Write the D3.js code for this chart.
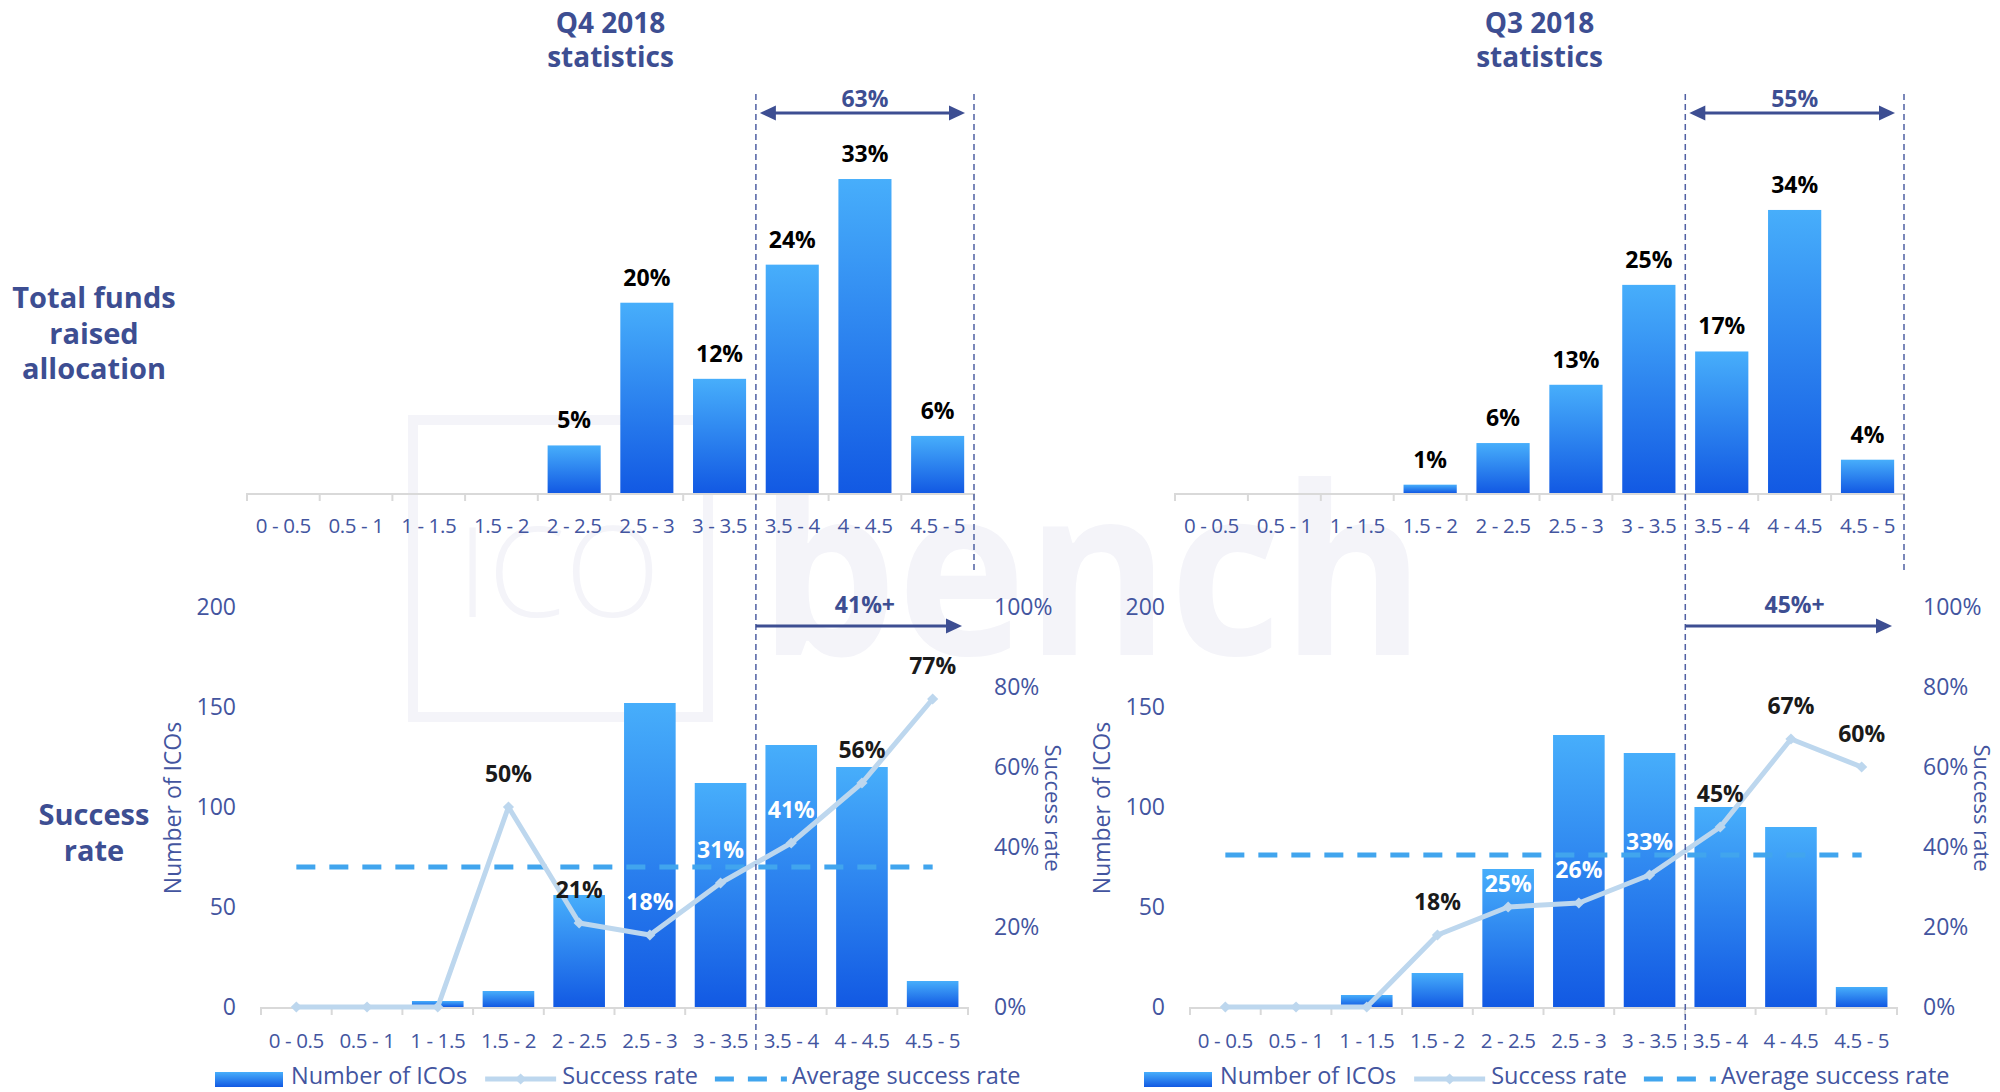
<!DOCTYPE html>
<html>
<head>
<meta charset="utf-8">
<script src="https://cdn.jsdelivr.net/npm/d3@7/dist/d3.min.js"></script>
<style>
  body { margin: 0; background: #fff; }
  svg { display: block; }
  text { font-family: "Open Sans", "Noto Sans", sans-serif; }
</style>
</head>
<body>
<svg id="chart" width="2000" height="1092"></svg>
<script>
// ICO rating buckets
const categories = ["0 - 0.5", "0.5 - 1", "1 - 1.5", "1.5 - 2", "2 - 2.5",
                    "2.5 - 3", "3 - 3.5", "3.5 - 4", "4 - 4.5", "4.5 - 5"];

// Share of total funds raised per rating bucket (%)
const q4FundsShare = [0, 0, 0, 0, 5, 20, 12, 24, 33, 6];
const q3FundsShare = [0, 0, 0, 1, 6, 13, 25, 17, 34, 4];

// Number of ICOs per rating bucket
const q4IcoCount = [0, 0, 3, 8, 56, 152, 112, 131, 120, 13];
const q3IcoCount = [0, 0, 6, 17, 69, 136, 127, 100, 90, 10];

// Success rate per rating bucket (%)
const q4SuccessRate = [0, 0, 0, 50, 21, 18, 31, 41, 56, 77];
const q3SuccessRate = [0, 0, 0, 18, 25, 26, 33, 45, 67, 60];

// Average success rate (%)
const q4AvgRate = 35;
const q3AvgRate = 38;

// Axis ticks
const countTicks = [0, 50, 100, 150, 200];
const rateTicks = [0, 0.2, 0.4, 0.6, 0.8, 1];

const titles = [["Q4 2018", "statistics"], ["Q3 2018", "statistics"]];
const rowLabels = [["Total funds", "raised", "allocation"], ["Success", "rate"]];
const legendLabels = ["Number of ICOs", "Success rate", "Average success rate"];

// ---------------------------------------------------------------
const NAVY = "#3D4E92";
const TICK = "#43559F";
const LINE = "#BDD7EE";
const AVG = "#41A5EE";
const WM = "#F4F4F9";
const highlightFrom = 7; // "3.5 - 4" and above

const svg = d3.select("#chart");

const defs = svg.append("defs");
const grad = defs.append("linearGradient").attr("id", "barGrad")
  .attr("x1", 0).attr("y1", 0).attr("x2", 0).attr("y2", 1);
grad.append("stop").attr("offset", "0%").attr("stop-color", "#47AEFB");
grad.append("stop").attr("offset", "100%").attr("stop-color", "#1259E3");

// Background logo mark
const wm = svg.append("g");
wm.append("rect").attr("x", 413).attr("y", 420).attr("width", 295).attr("height", 297)
  .attr("fill", "none").attr("stroke", WM).attr("stroke-width", 10);
wm.append("text").attr("x", 457).attr("y", 617).text("ICO")
  .attr("font-size", 125).attr("font-weight", 300).attr("fill", WM)
  .attr("textLength", 203).attr("lengthAdjust", "spacingAndGlyphs");
wm.append("text").attr("x", 759).attr("y", 655).text("bench")
  .attr("font-size", 235).attr("font-weight", 700).attr("fill", WM)
  .attr("textLength", 666).attr("lengthAdjust", "spacingAndGlyphs");

// Row labels on the left
function rowLabel(lines, y0) {
  const t = svg.append("text").attr("text-anchor", "middle")
    .attr("font-size", 29).attr("font-weight", 700).attr("fill", NAVY);
  lines.forEach((s, i) => t.append("tspan").attr("x", 94).attr("y", y0 + i * 35.5).text(s));
}
rowLabel(rowLabels[0], 308);
rowLabel(rowLabels[1], 825);

function arrowHead(g, x, y, dir) {
  // dir = 1 pointing right, -1 pointing left
  g.append("path")
    .attr("d", `M${x},${y} L${x - dir * 16},${y - 7.5} L${x - dir * 16},${y + 7.5} Z`)
    .attr("fill", NAVY);
}

function xAxis(g, x, y, n, pad) {
  const ax = g.append("g").attr("transform", `translate(0,${y})`)
    .call(d3.axisBottom(x).tickSize(0).tickPadding(pad));
  ax.select(".domain").remove();
  ax.selectAll("text").attr("font-size", 20.5).attr("fill", TICK)
    .attr("letter-spacing", -0.4)
    .attr("font-family", "\"Open Sans\", sans-serif");
  const [r0, r1] = x.range();
  g.append("line").attr("x1", r0).attr("x2", r1).attr("y1", y + 1).attr("y2", y + 1)
    .attr("stroke", "#D9D9D9").attr("stroke-width", 2);
  d3.range(n + 1).forEach(i => {
    const xx = r0 + i * x.step();
    g.append("line").attr("x1", xx).attr("x2", xx).attr("y1", y).attr("y2", y + 8)
      .attr("stroke", "#D9D9D9").attr("stroke-width", 2);
  });
}

function panel(opt) {
  const g = svg.append("g");

  // ---------- Top: funds raised allocation ----------
  const xt = d3.scaleBand().domain(categories).range([opt.tx0, opt.tx1])
    .paddingInner(0.27).paddingOuter(0.135);
  const yt = d3.scaleLinear().domain([0, opt.fundsMax]).range([493, 160]);

  g.append("g").selectAll("rect").data(opt.funds).join("rect")
    .attr("x", (d, i) => xt(categories[i]))
    .attr("width", xt.bandwidth())
    .attr("y", d => yt(d))
    .attr("height", d => yt(0) - yt(d))
    .attr("fill", "url(#barGrad)");

  xAxis(g, xt, 493, categories.length, 25);

  g.append("g").selectAll("text")
    .data(opt.funds.map((v, i) => ({ v, c: categories[i] })).filter(d => d.v > 0))
    .join("text")
    .attr("x", d => xt(d.c) + xt.bandwidth() / 2)
    .attr("y", d => yt(d.v) - 17)
    .attr("text-anchor", "middle").attr("font-size", 23).attr("font-weight", 700)
    .attr("fill", "#000").text(d => d.v + "%");

  // title
  const tc = (opt.tx0 + opt.tx1) / 2;
  const tt = g.append("text").attr("text-anchor", "middle").attr("font-size", 28)
    .attr("font-weight", 700).attr("fill", NAVY);
  opt.title.forEach((s, i) => tt.append("tspan").attr("x", tc).attr("y", 33 + i * 34).text(s));

  // ---------- Bottom: number of ICOs and success rate ----------
  const xb = d3.scaleBand().domain(categories).range([opt.bx0, opt.bx1])
    .paddingInner(0.27).paddingOuter(0.135);
  const yc = d3.scaleLinear().domain([0, 200]).range([1007, 607]);
  const yr = d3.scaleLinear().domain([0, 1]).range([1007, 607]);

  g.append("g").selectAll("rect").data(opt.count).join("rect")
    .attr("x", (d, i) => xb(categories[i]))
    .attr("width", xb.bandwidth())
    .attr("y", d => yc(d))
    .attr("height", d => yc(0) - yc(d))
    .attr("fill", "url(#barGrad)");

  xAxis(g, xb, 1007, categories.length, 26);

  const yl = g.append("g").attr("transform", `translate(${opt.bx0},0)`)
    .call(d3.axisLeft(yc).tickValues(countTicks).tickSize(0).tickPadding(25));
  yl.select(".domain").remove();
  yl.selectAll("text").attr("font-size", 23).attr("fill", TICK)
    .attr("font-family", "\"Open Sans\", sans-serif");

  const yrA = g.append("g").attr("transform", `translate(${opt.bx1},0)`)
    .call(d3.axisRight(yr).tickValues(rateTicks).tickFormat(d3.format(".0%"))
      .tickSize(0).tickPadding(26));
  yrA.select(".domain").remove();
  yrA.selectAll("text").attr("font-size", 23).attr("fill", TICK)
    .attr("font-family", "\"Open Sans\", sans-serif");

  g.append("text").attr("transform", `translate(${opt.bx0 - 89},808) rotate(-90)`)
    .attr("text-anchor", "middle").attr("dominant-baseline", "central")
    .attr("font-size", 23).attr("fill", TICK).text("Number of ICOs");
  g.append("text").attr("transform", `translate(${opt.bx1 + 86},808) rotate(90)`)
    .attr("text-anchor", "middle").attr("dominant-baseline", "central")
    .attr("font-size", 22).attr("fill", TICK).text("Success rate");

  const cx = i => xb(categories[i]) + xb.bandwidth() / 2;

  // average success rate
  g.append("line")
    .attr("x1", cx(0)).attr("x2", cx(categories.length - 1))
    .attr("y1", yr(opt.avg / 100)).attr("y2", yr(opt.avg / 100))
    .attr("stroke", AVG).attr("stroke-width", 5).attr("stroke-dasharray", "19,14");

  // success rate line
  const pts = opt.rate.map((v, i) => [cx(i), yr(v / 100)]);
  g.append("path").attr("d", d3.line()(pts))
    .attr("fill", "none").attr("stroke", LINE).attr("stroke-width", 5)
    .attr("stroke-linejoin", "round");
  g.append("g").selectAll("path").data(pts).join("path")
    .attr("transform", d => `translate(${d[0]},${d[1]})`)
    .attr("d", d3.symbol(d3.symbolDiamond2, 80))
    .attr("fill", LINE);

  // success rate labels: white and fully inside when they fall on a bar
  opt.rate.forEach((v, i) => {
    if (v <= 0) return;
    let ly = yr(v / 100) - 25;
    const barTop = yc(opt.count[i]);
    const inside = ly > barTop + 10;
    if (inside) ly = Math.max(ly, barTop + 23);
    g.append("text").attr("x", cx(i)).attr("y", ly)
      .attr("text-anchor", "middle").attr("font-size", 23).attr("font-weight", 700)
      .attr("fill", inside ? "#fff" : "#1a1a1a").text(v + "%");
  });

  // ---------- Highlight of the upper rating buckets ----------
  const hx = opt.tx0 + highlightFrom * xt.step();
  const hEnd = opt.tx1;
  g.append("line").attr("x1", hx).attr("x2", hx).attr("y1", 94).attr("y2", 1054)
    .attr("stroke", "#4F60A3").attr("stroke-width", 1.5).attr("stroke-dasharray", "6,4");
  g.append("line").attr("x1", hEnd).attr("x2", hEnd).attr("y1", 94).attr("y2", 572)
    .attr("stroke", "#4F60A3").attr("stroke-width", 1.5).attr("stroke-dasharray", "6,4");

  const mid = (hx + hEnd) / 2;
  const share = d3.sum(opt.funds.slice(highlightFrom));
  g.append("line").attr("x1", hx + 16).attr("x2", hEnd - 25).attr("y1", 113).attr("y2", 113)
    .attr("stroke", NAVY).attr("stroke-width", 3);
  arrowHead(g, hx + 4, 113, -1);
  arrowHead(g, hEnd - 9, 113, 1);
  g.append("text").attr("x", mid).attr("y", 107).attr("text-anchor", "middle")
    .attr("font-size", 23).attr("font-weight", 700).attr("fill", NAVY).text(share + "%");

  g.append("line").attr("x1", hx).attr("x2", hEnd - 28).attr("y1", 626).attr("y2", 626)
    .attr("stroke", NAVY).attr("stroke-width", 3);
  arrowHead(g, hEnd - 12, 626, 1);
  g.append("text").attr("x", mid).attr("y", 613).attr("text-anchor", "middle")
    .attr("font-size", 23).attr("font-weight", 700).attr("fill", NAVY)
    .text(opt.rate[highlightFrom] + "%+");

  // ---------- Legend ----------
  const lg = g.append("g");
  let lx = opt.bx0 - 46;
  const ly = 1079;
  const lfs = 23.5, lbase = 1084;
  lg.append("rect").attr("x", lx).attr("y", ly - 7).attr("width", 68).attr("height", 15)
    .attr("fill", "url(#barGrad)");
  lx += 76;
  let t = lg.append("text").attr("x", lx).attr("y", lbase).attr("font-size", lfs)
    .attr("fill", TICK).text(legendLabels[0]);
  lx += t.node().getComputedTextLength() + 18;
  lg.append("line").attr("x1", lx).attr("x2", lx + 71).attr("y1", ly).attr("y2", ly)
    .attr("stroke", LINE).attr("stroke-width", 5);
  lg.append("path").attr("transform", `translate(${lx + 35.5},${ly})`)
    .attr("d", d3.symbol(d3.symbolDiamond2, 80)).attr("fill", LINE);
  lx += 77;
  t = lg.append("text").attr("x", lx).attr("y", lbase).attr("font-size", lfs)
    .attr("fill", TICK).text(legendLabels[1]);
  lx += t.node().getComputedTextLength() + 17;
  lg.append("line").attr("x1", lx).attr("x2", lx + 72).attr("y1", ly).attr("y2", ly)
    .attr("stroke", AVG).attr("stroke-width", 5).attr("stroke-dasharray", "19,14");
  lx += 77;
  lg.append("text").attr("x", lx).attr("y", lbase).attr("font-size", lfs)
    .attr("fill", TICK).text(legendLabels[2]);
}

panel({
  title: titles[0], funds: q4FundsShare, fundsMax: 35,
  count: q4IcoCount, rate: q4SuccessRate, avg: q4AvgRate,
  tx0: 247, tx1: 974, bx0: 261, bx1: 968
});
panel({
  title: titles[1], funds: q3FundsShare, fundsMax: 40,
  count: q3IcoCount, rate: q3SuccessRate, avg: q3AvgRate,
  tx0: 1175, tx1: 1904, bx0: 1190, bx1: 1897
});
</script>
</body>
</html>
